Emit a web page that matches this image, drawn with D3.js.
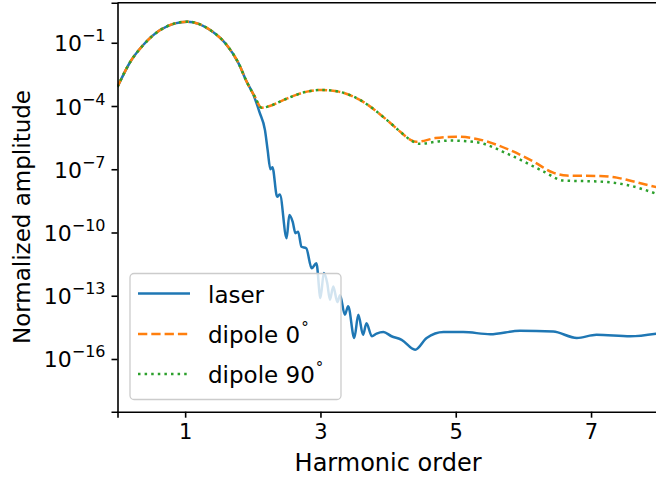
<!DOCTYPE html>
<html>
<head>
<meta charset="utf-8">
<script src="https://cdn.jsdelivr.net/npm/d3@7"></script>
<style>
  body { margin: 0; background: #fff; }
  text { font-family: "DejaVu Sans", sans-serif; fill: #000; }
</style>
</head>
<body>
<div id="chart"></div>
<script>
// harmonic order (x) and normalized amplitude (y)
const laserX = [0, 0.19, 0.38, 0.63, 0.85, 1.03, 1.2, 1.37, 1.6, 1.79, 1.91, 2.0, 2.1, 2.18, 2.22, 2.26, 2.29, 2.36, 2.4, 2.5,
  2.54, 2.59, 2.63, 2.67, 2.72, 2.79, 2.87, 2.94, 3.0, 3.05, 3.1, 3.14, 3.19, 3.25, 3.29, 3.36, 3.41, 3.5, 3.56, 3.63,
  3.68, 3.76, 3.83, 3.93, 4.05, 4.2, 4.4, 4.57, 4.82, 5.11, 5.51, 5.95, 6.44, 6.79, 7.08, 7.58, 7.97];
const laserY = [8.1e-4, 1.26e-2, 7.8e-2, 0.40, 0.83, 1.0, 0.79, 0.40, 8.9e-2, 1.05e-2, 1.41e-3, 4.0e-4, 5.0e-5, 7.2e-6, 7.9e-7, 1.0e-7, 1.26e-7, 5.0e-9, 6.3e-9, 5.4e-11,
  6.8e-10, 3.2e-10, 9.3e-11, 1.1e-10, 2.1e-11, 1.8e-11, 2.0e-12, 3.5e-12, 7.8e-14, 1.2e-12, 4.0e-13, 6.5e-14, 2.75e-13, 5.0e-14, 1.07e-13, 1.26e-14, 3.2e-14, 1.0e-15, 1.26e-14, 1.4e-15,
  5.0e-15, 1.2e-15, 1.6e-15, 1.9e-15, 1.2e-15, 8.1e-16, 2.75e-16, 1.0e-15, 1.9e-15, 1.9e-15, 1.5e-15, 2.2e-15, 2.0e-15, 1.0e-15, 1.4e-15, 1.2e-15, 1.6e-15];

const dipole0X = [0, 0.19, 0.38, 0.63, 0.85, 1.03, 1.2, 1.37, 1.6, 1.79, 1.91, 2.03, 2.13, 2.25, 2.45, 2.8, 3.02, 3.27, 3.59, 3.98,
  4.18, 4.33, 4.42, 4.7, 5.0, 5.31, 5.8, 6.15, 6.44, 6.64, 7.13, 7.38, 7.63, 7.97];
const dipole0Y = [8.1e-4, 1.26e-2, 7.8e-2, 0.40, 0.83, 1.0, 0.79, 0.40, 8.9e-2, 1.05e-2, 1.41e-3, 2.75e-4, 8.3e-5, 1.0e-4, 1.9e-4, 4.8e-4, 5.75e-4, 4.8e-4, 1.9e-4, 2.2e-5,
  6.0e-6, 2.5e-6, 2.0e-6, 3.0e-6, 3.5e-6, 2.75e-6, 8.1e-7, 2.3e-7, 6.9e-8, 5.0e-8, 4.8e-8, 4.0e-8, 2.6e-8, 1.4e-8];

const dipole90X = [0, 0.19, 0.38, 0.63, 0.85, 1.03, 1.2, 1.37, 1.6, 1.79, 1.91, 2.03, 2.13, 2.25, 2.45, 2.8, 3.02, 3.27, 3.59, 3.98,
  4.18, 4.33, 4.47, 4.7, 4.92, 5.31, 5.8, 6.3, 6.59, 7.13, 7.53, 7.97];
const dipole90Y = [8.1e-4, 1.26e-2, 7.8e-2, 0.40, 0.83, 1.0, 0.79, 0.40, 8.9e-2, 1.05e-2, 1.41e-3, 2.75e-4, 8.3e-5, 1.0e-4, 1.9e-4, 4.8e-4, 5.75e-4, 4.8e-4, 1.9e-4, 2.2e-5,
  6.0e-6, 2.45e-6, 1.6e-6, 2.0e-6, 2.3e-6, 1.9e-6, 4.8e-7, 7.8e-8, 2.9e-8, 2.6e-8, 1.8e-8, 6.8e-9];

const xTicks = [1, 3, 5, 7];
const yTickExps = [-1, -4, -7, -10, -13, -16];
const seriesNames = ["laser", "dipole 0", "dipole 90"];

/*
SVG
*/
const width = 656, height = 479;
const margin = {top: 2.7, left: 117.5, right: -2.7, bottom: 67.3};

const svg = d3.select("#chart")
    .append("svg")
    .attr("width", width)
    .attr("height", height);

/*
SCALES
*/
const xScale = d3.scaleLinear()
    .domain([0, 8])
    .range([margin.left, width - margin.right]);

const yScale = d3.scaleLog()
    .domain([Math.pow(10, -18.5), Math.pow(10, 0.9)])
    .range([height - margin.bottom, margin.top]);

svg.append("clipPath").attr("id", "plotclip")
    .append("rect")
    .attr("x", margin.left).attr("y", margin.top)
    .attr("width", width - margin.right - margin.left)
    .attr("height", height - margin.bottom - margin.top);

/*
LINES
*/
const line = d3.line()
    .x(function(d) { return xScale(d[0]); })
    .y(function(d) { return yScale(d[1]); })
    .curve(d3.curveMonotoneX);

const series = [
    {x: laserX, y: laserY, color: "#1f77b4", dash: null},
    {x: dipole0X, y: dipole0Y, color: "#ff7f0e", dash: "9.3,4"},
    {x: dipole90X, y: dipole90Y, color: "#2ca02c", dash: "2.5,4.1"}
];

const plot = svg.append("g").attr("clip-path", "url(#plotclip)");
series.forEach(function(s) {
    plot.append("path")
        .datum(d3.zip(s.x, s.y))
        .attr("d", line)
        .attr("fill", "none")
        .attr("stroke", s.color)
        .attr("stroke-width", 2.5)
        .attr("stroke-dasharray", s.dash);
});

/*
AXES
*/
const xAxis = svg.append("g")
    .attr("transform", `translate(0,${height - margin.bottom})`)
    .call(d3.axisBottom(xScale).tickValues(xTicks).tickSize(6).tickPadding(6).tickFormat(d3.format("d")));

const yAxis = svg.append("g")
    .attr("transform", `translate(${margin.left},0)`)
    .call(d3.axisLeft(yScale).tickValues(yTickExps.map(function(e) { return Math.pow(10, e); }))
        .tickSize(6).tickPadding(6).tickFormat(function() { return ""; }));

[xAxis, yAxis].forEach(function(a) {
    a.select(".domain").attr("stroke", "#000").attr("stroke-width", 1.6);
    a.selectAll(".tick line").attr("stroke", "#000").attr("stroke-width", 1.6);
});
xAxis.selectAll(".tick text").attr("font-size", 21).attr("font-family", "DejaVu Sans").attr("fill", "#000");

// 10^n labels
yAxis.selectAll(".tick").each(function(d, i) {
    const t = d3.select(this).append("text")
        .attr("x", -12)
        .attr("y", 8)
        .attr("text-anchor", "end")
        .attr("font-size", 22);
    t.append("tspan").text("10");
    t.append("tspan").attr("font-size", 16).attr("dy", -10)
        .text("\u2212" + Math.abs(yTickExps[i]));
});

// top spine (right spine sits just outside the picture)
svg.append("line")
    .attr("x1", margin.left).attr("x2", width)
    .attr("y1", margin.top).attr("y2", margin.top)
    .attr("stroke", "#000").attr("stroke-width", 1.6);

/*
AXIS LABELS
*/
svg.append("text")
    .attr("x", (margin.left + width - margin.right) / 2)
    .attr("y", 471)
    .attr("text-anchor", "middle")
    .attr("font-size", 24)
    .text("Harmonic order");

svg.append("text")
    .attr("transform", "translate(30,217) rotate(-90)")
    .attr("text-anchor", "middle")
    .attr("font-size", 23)
    .text("Normalized amplitude");

/*
LEGEND
*/
const legend = svg.append("g");
legend.append("rect")
    .attr("x", 130).attr("y", 273.5)
    .attr("width", 211).attr("height", 126)
    .attr("rx", 4)
    .attr("fill", "rgba(255,255,255,0.8)")
    .attr("stroke", "#cccccc")
    .attr("stroke-width", 1.3);

const rowY = [293.5, 334, 374];
series.forEach(function(s, i) {
    legend.append("line")
        .attr("x1", 138).attr("x2", 190)
        .attr("y1", rowY[i]).attr("y2", rowY[i])
        .attr("stroke", s.color)
        .attr("stroke-width", 2.5)
        .attr("stroke-dasharray", s.dash);
    const t = legend.append("text")
        .attr("x", 208)
        .attr("y", rowY[i] + 9)
        .attr("font-size", 23)
        .text(seriesNames[i]);
    if (i > 0) {
        t.append("tspan").attr("font-size", 15).attr("dy", -10).attr("dx", 1).text("\u00B0");
    }
});
</script>
</body>
</html>
